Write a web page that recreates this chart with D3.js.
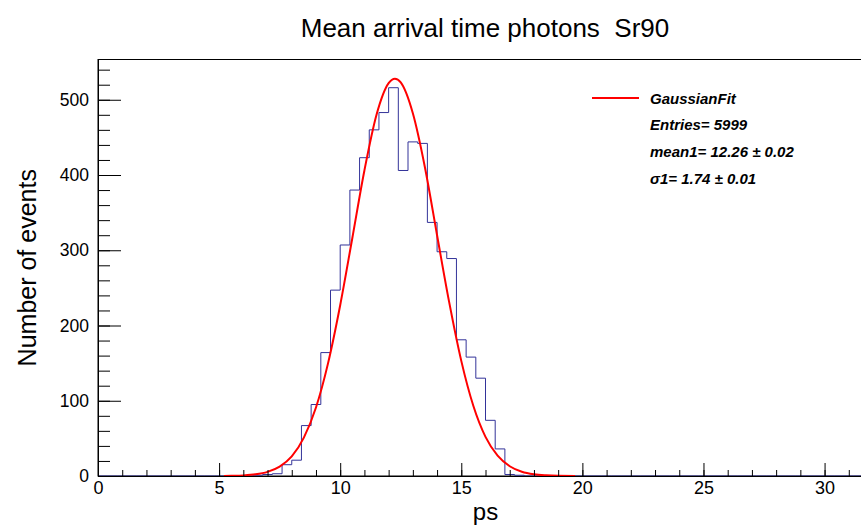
<!DOCTYPE html>
<html>
<head>
<meta charset="utf-8">
<script src="https://cdn.jsdelivr.net/npm/d3@7"></script>
<style>
  body { margin: 0; background: #fff; }
  text { font-family: "Liberation Sans", Arial, Helvetica, sans-serif; }
</style>
</head>
<body>
<div id="chart"></div>
<script>
// histogram bins (0.4 ps wide), only the non-empty ones are listed
var binWidth = 0.4;
var binLow = [6.4, 6.8, 7.2, 7.6, 8.0, 8.4, 8.8, 9.2, 9.6, 10.0,
              10.4, 10.8, 11.2, 11.6, 12.0, 12.4, 12.8, 13.2, 13.6, 14.0,
              14.4, 14.8, 15.2, 15.6, 16.0, 16.4, 16.8, 17.2];
var counts = [1, 2, 3, 15, 21, 67, 95, 164, 247, 307,
              380, 423, 460, 483, 516, 406, 444, 442, 337, 298,
              289, 181, 158, 130, 74, 36, 2, 1];

// red fit curve
var fitX = [5.2, 5.5, 6.0, 6.5, 7.0, 7.5, 8.0, 8.5, 9.0, 9.5, 10.0, 10.5, 11.0, 11.5,
            12.0, 12.26, 12.5, 13.0, 13.5, 14.0, 14.5, 15.0, 15.5, 16.0, 16.5, 17.0,
            17.5, 18.0, 18.5, 19.0, 19.7];
var fitY = [0.1, 0.3, 0.8, 2.2, 5.5, 12.5, 26, 51, 91, 150, 227, 316, 406, 480,
            522, 528, 523, 482, 410, 320, 231, 153, 93, 52, 27, 13,
            5.7, 2.3, 0.9, 0.3, 0.1];

var xMajor = [0, 5, 10, 15, 20, 25, 30];
var yMajor = [0, 100, 200, 300, 400, 500];

var legendLines = ["Entries= 5999", "mean1= 12.26 \u00b1 0.02", "\u03c31= 1.74 \u00b1 0.01"];

var W = 861, H = 527;
var margin = { top: 59.5, left: 98, bottom: 51, right: -12 };
var width = W - margin.left - margin.right;
var height = H - margin.top - margin.bottom;

var svg = d3.select("#chart")
    .append("svg")
    .attr("width", W)
    .attr("height", H);

svg.append("rect").attr("width", W).attr("height", H).attr("fill", "#fff");

var g = svg.append("g")
    .attr("transform", "translate(" + margin.left + "," + margin.top + ")");

var x = d3.scaleLinear().domain([0, 32]).range([0, width]);
var y = d3.scaleLinear().domain([0, 553.5]).range([height, 0]);

// frame
g.append("rect")
    .attr("x", 0).attr("y", 0)
    .attr("width", width).attr("height", height)
    .attr("fill", "none")
    .attr("stroke", "#000")
    .attr("stroke-width", 1);

// full 80 bins, zeros outside the listed range
var nBins = Math.round(32 / binWidth);
var full = d3.range(nBins).map(i => 0);
binLow.forEach((lo, i) => { full[Math.round(lo / binWidth)] = counts[i]; });
var stepPts = full.map((c, i) => [i * binWidth, c]);
stepPts.push([32, full[nBins - 1]]);

g.append("path")
    .datum(stepPts)
    .attr("fill", "none")
    .attr("stroke", "#333399")
    .attr("stroke-width", 1)
    .attr("d", d3.line()
        .x(d => x(d[0]))
        .y(d => y(d[1]))
        .curve(d3.curveStepAfter));

// gaussian fit
g.append("path")
    .datum(fitX.map((v, i) => [v, fitY[i]]))
    .attr("fill", "none")
    .attr("stroke", "#ff0000")
    .attr("stroke-width", 2)
    .attr("d", d3.line()
        .x(d => x(d[0]))
        .y(d => y(d[1]))
        .curve(d3.curveMonotoneX));

// x axis: minor then major ticks, drawn inward
g.append("g")
    .attr("transform", "translate(0," + height + ")")
    .call(d3.axisBottom(x).tickValues(d3.range(0, 32, 1)).tickSize(-6).tickSizeOuter(0).tickFormat(""))
    .call(a => a.select(".domain").remove());

var xAxis = g.append("g")
    .attr("transform", "translate(0," + height + ")")
    .call(d3.axisBottom(x).tickValues(xMajor).tickSize(-13).tickSizeOuter(0).tickPadding(5));
xAxis.selectAll("text").attr("font-size", 18).attr("fill", "#000");
xAxis.select(".domain").attr("stroke", "#000");

// y axis
g.append("g")
    .call(d3.axisLeft(y).tickValues(d3.range(0, 553, 20)).tickSize(-12).tickSizeOuter(0).tickFormat(""))
    .call(a => a.select(".domain").remove());

var yAxis = g.append("g")
    .call(d3.axisLeft(y).tickValues(yMajor).tickSize(-23).tickSizeOuter(0).tickPadding(9));
yAxis.selectAll("text").attr("font-size", 17.5).attr("fill", "#000");
yAxis.select(".domain").attr("stroke", "#000");

// titles
svg.append("text")
    .attr("x", 485).attr("y", 37)
    .attr("text-anchor", "middle")
    .attr("font-size", 26)
    .style("white-space", "pre")
    .text("Mean arrival time photons  Sr90");

svg.append("text")
    .attr("x", margin.left + width / 2).attr("y", 520)
    .attr("text-anchor", "middle")
    .attr("font-size", 24)
    .text("ps");

svg.append("text")
    .attr("transform", "translate(36," + (margin.top + height / 2) + ") rotate(-90)")
    .attr("text-anchor", "middle")
    .attr("font-size", 25)
    .text("Number of events");

// legend
var leg = svg.append("g").attr("transform", "translate(592,98)");
leg.append("line")
    .attr("x1", 0).attr("x2", 47)
    .attr("y1", 0).attr("y2", 0)
    .attr("stroke", "#ff0000").attr("stroke-width", 2);
leg.append("text")
    .attr("x", 58).attr("y", 5.5)
    .attr("font-size", 15)
    .attr("font-weight", "bold")
    .attr("font-style", "italic")
    .text("GaussianFit");
leg.selectAll("text.stat")
    .data(legendLines)
    .enter()
    .append("text")
    .attr("class", "stat")
    .attr("x", 58)
    .attr("y", (d, i) => 32 + i * 27)
    .attr("font-size", 15)
    .attr("font-weight", "bold")
    .attr("font-style", "italic")
    .style("white-space", "pre")
    .text(d => d);
</script>
</body>
</html>
